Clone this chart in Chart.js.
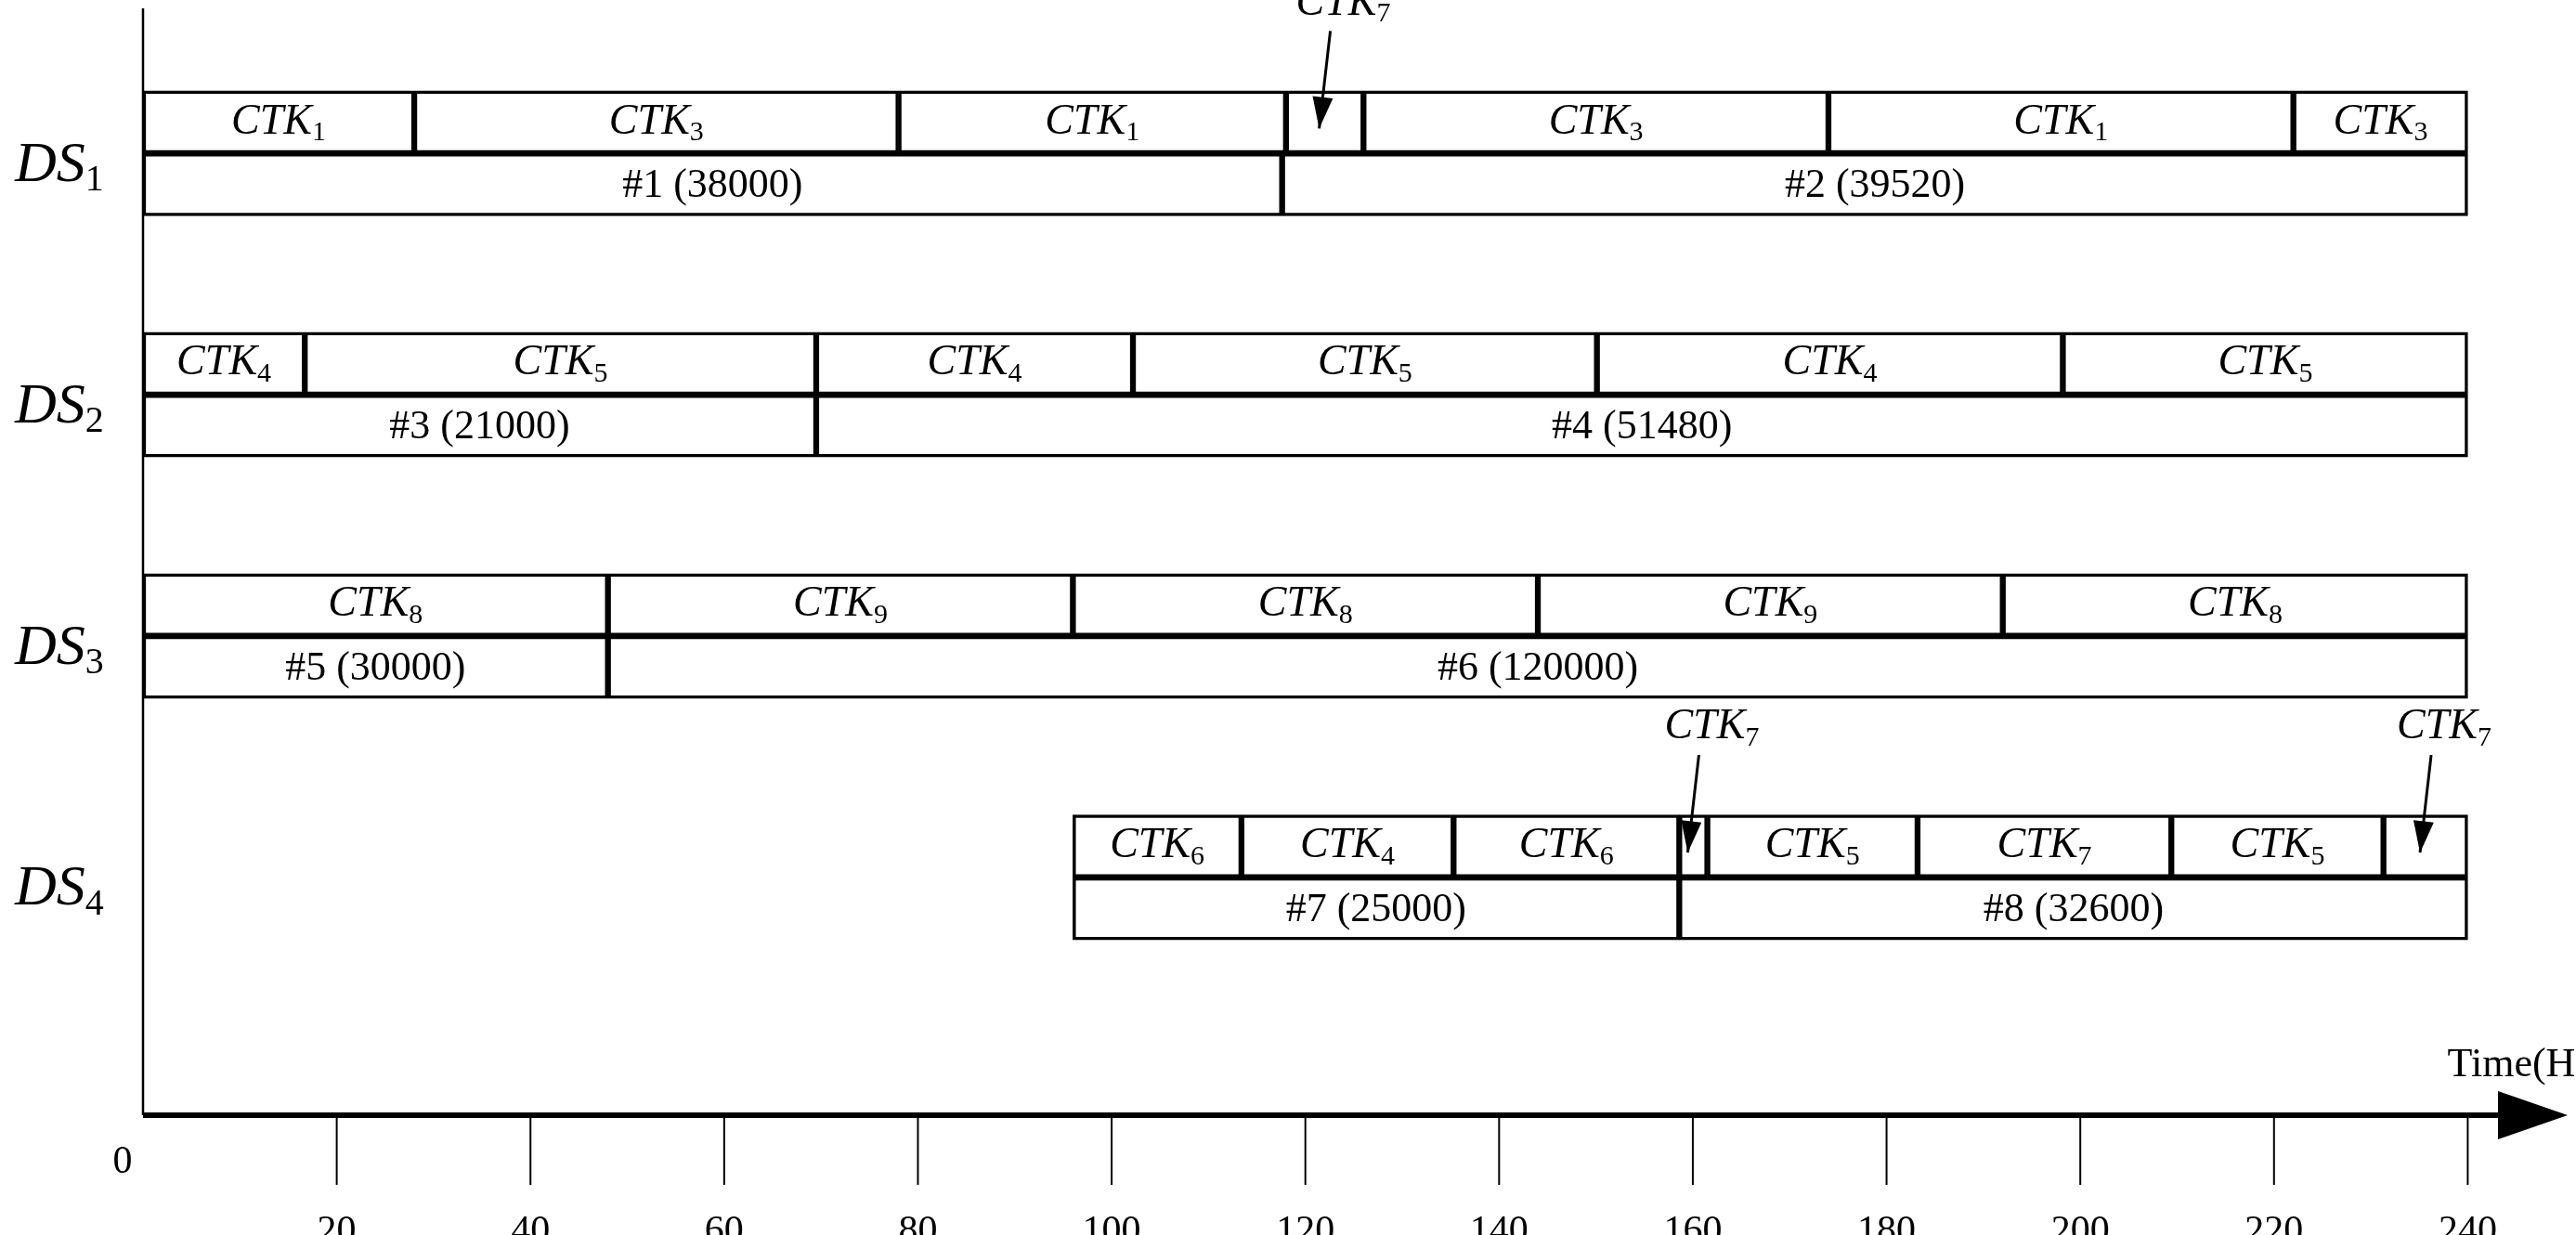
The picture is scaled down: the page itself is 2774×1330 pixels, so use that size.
<!DOCTYPE html>
<html><head><meta charset="utf-8">
<script src="https://cdn.jsdelivr.net/npm/chart.js@4"></script>
<style>html,body{margin:0;padding:0;background:#fff}#c{display:block}</style>
</head><body>
<div style="width:2774px;height:1330px"><canvas id="c"></canvas></div>
<script>
const dsNames = ['1','2','3','4'];
const ctkBounds = [
  [0,28,78,118,126,174,222,240],
  [0,16.7,69.5,102.2,150.1,198.2,240],
  [0,48,96,144,192,240],
  [96,113.4,135.3,158.6,161.5,183.2,209.4,231.3,240]
];
const ctkIds = [
  ['1','3','1','7','3','1','3'],
  ['4','5','4','5','4','5'],
  ['8','9','8','9','8'],
  ['6','4','6','7','5','7','5','7']
];
const jobBounds = [
  [0,117.6,240],
  [0,69.5,240],
  [0,48,240],
  [96,158.6,240]
];
const jobLabels = [
  ['#1 (38000)','#2 (39520)'],
  ['#3 (21000)','#4 (51480)'],
  ['#5 (30000)','#6 (120000)'],
  ['#7 (25000)','#8 (32600)']
];
const xTicks = [20,40,60,80,100,120,140,160,180,200,220,240];
const axisTitle = 'Time(H)';

const GROUP = 3.855, CTK0 = 1.816;
const datasets = [];
ctkBounds.forEach((b,g)=>{
  const yC = CTK0 + g*GROUP;
  datasets.push({kind:'ctk', group:g, texts:ctkIds[g],
    data: ctkIds[g].map((_,i)=>({x:[b[i],b[i+1]], y:yC}))});
  datasets.push({kind:'job', group:g, texts:jobLabels[g],
    data: jobLabels[g].map((_,i)=>({x:[jobBounds[g][i],jobBounds[g][i+1]], y:yC+1}))});
});
datasets.forEach(d=>{d.backgroundColor='#fff';d.borderColor='#000';d.borderWidth=3.5;d.borderSkipped=false;d.barThickness=67;d.grouped=false;});

const serif = '"Liberation Serif","Times New Roman",serif';
function drawCTK(ctx, x, y, id){
  const f1 = 'italic 46px '+serif, f2 = '30px '+serif;
  ctx.font=f1; const w1=ctx.measureText('CTK').width;
  ctx.font=f2; const w2=ctx.measureText(id).width;
  const sx = x-(w1+w2)/2;
  ctx.textAlign='left'; ctx.textBaseline='middle';
  ctx.font=f1; ctx.fillText('CTK', sx, y);
  ctx.font=f2; ctx.fillText(id, sx+w1, y+12);
}
function arrow(ctx,x1,y1,x2,y2){
  ctx.beginPath(); ctx.moveTo(x1,y1); ctx.lineTo(x2,y2); ctx.lineWidth=3; ctx.stroke();
  const a=Math.atan2(y2-y1,x2-x1), L=34, W=11;
  ctx.beginPath(); ctx.moveTo(x2,y2);
  ctx.lineTo(x2-L*Math.cos(a)+W*Math.sin(a), y2-L*Math.sin(a)-W*Math.cos(a));
  ctx.lineTo(x2-L*Math.cos(a)-W*Math.sin(a), y2-L*Math.sin(a)+W*Math.cos(a));
  ctx.closePath(); ctx.fill();
}
const deco = {
  id:'deco',
  afterDatasetsDraw(chart){
    const ctx=chart.ctx, xs=chart.scales.x, ys=chart.scales.y;
    ctx.save(); ctx.fillStyle='#000'; ctx.strokeStyle='#000';
    const x0=xs.getPixelForValue(0), yAx=ys.getPixelForValue(ys.max), yTop=ys.getPixelForValue(ys.min);
    ctx.lineWidth=2.5; ctx.beginPath(); ctx.moveTo(x0,yTop); ctx.lineTo(x0,yAx); ctx.stroke();
    const xEnd=xs.getPixelForValue(xs.max);
    ctx.lineWidth=6; ctx.beginPath(); ctx.moveTo(x0,yAx); ctx.lineTo(xEnd-30,yAx); ctx.stroke();
    ctx.beginPath(); ctx.moveTo(xEnd+45,yAx); ctx.lineTo(xEnd-30,yAx-26); ctx.lineTo(xEnd-30,yAx+26); ctx.closePath(); ctx.fill();
    ctx.lineWidth=2; ctx.font='42px '+serif; ctx.textAlign='center'; ctx.textBaseline='top';
    xTicks.forEach(t=>{const px=xs.getPixelForValue(t);
      ctx.beginPath(); ctx.moveTo(px,yAx); ctx.lineTo(px,yAx+75); ctx.stroke();
      ctx.fillText(String(t), px, yAx+105);});
    ctx.fillText('0', x0-22, yAx+30);
    ctx.font='44px '+serif; ctx.textAlign='right'; ctx.textBaseline='alphabetic';
    ctx.fillText(axisTitle, xEnd+68, yAx-42);
    chart.data.datasets.forEach((d,di)=>{
      const meta=chart.getDatasetMeta(di);
      meta.data.forEach((el,i)=>{
        const l=Math.min(el.x,el.base), r=Math.max(el.x,el.base), cx=(l+r)/2, cy=el.y;
        if(d.kind==='job'){
          ctx.font='44px '+serif; ctx.textAlign='center'; ctx.textBaseline='middle';
          ctx.fillText(d.texts[i], cx, cy+2);
        } else if(r-l>120){
          drawCTK(ctx,cx,cy,d.texts[i]);
        } else {
          const top=cy-33;
          drawCTK(ctx,cx+20,top-95,d.texts[i]);
          arrow(ctx,cx+6,top-65,cx-6,top+40);
        }
      });
      if(d.kind==='ctk'){
        const gy=meta.data[0].y+33+14;
        const f1='italic 62px '+serif, f2='40px '+serif;
        ctx.textAlign='left'; ctx.textBaseline='middle';
        ctx.font=f1; ctx.fillText('DS',16,gy); const w=ctx.measureText('DS').width;
        ctx.font=f2; ctx.fillText(dsNames[d.group],16+w,gy+16);
      }
    });
    ctx.restore();
  }
};
new Chart(document.getElementById('c'),{
  type:'bar',
  data:{datasets},
  options:{
    indexAxis:'y', responsive:true, maintainAspectRatio:false, animation:false,
    devicePixelRatio:1,
    layout:{padding:{left:154,right:54,top:9,bottom:129}},
    plugins:{legend:{display:false},tooltip:{enabled:false}},
    scales:{
      x:{type:'linear',min:0,max:246,display:false},
      y:{type:'linear',min:0,max:17.68,reverse:true,display:false,offset:false}
    }
  },
  plugins:[deco]
});
</script>
</body></html>
